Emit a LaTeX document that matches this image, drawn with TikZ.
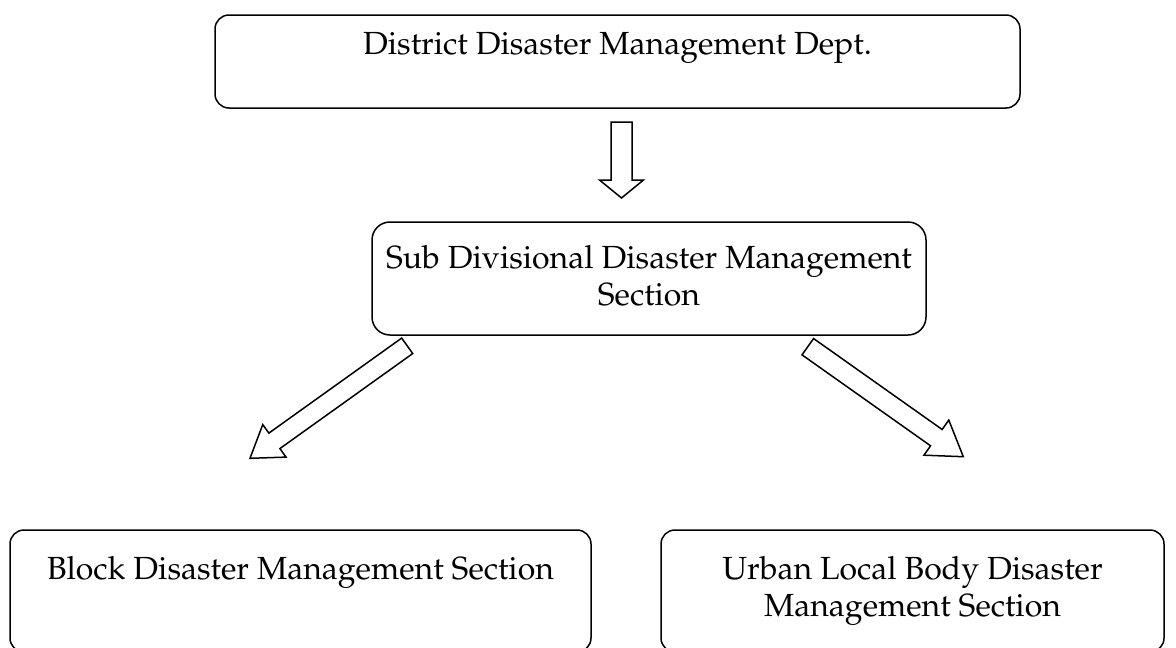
\documentclass[tikz,border=0pt]{standalone}
\usepackage[T1]{fontenc}
\usepackage{mathpazo}
\usetikzlibrary{positioning, calc}

\tikzset{
  box/.style={draw, line width=1.5pt, rounded corners=14pt, inner sep=0pt},
  boxtext/.style={inner sep=0pt, align=center, font=\fontsize{32}{37}\selectfont},
  bigarrow/.style={draw, line width=1.5pt, line join=miter, fill=white}
}
% hollow block arrow: tail, tip, head length, shaft half width, head half width
\newcommand{\blockarrow}[5]{%
  \coordinate (hb) at ($(#2)!#3!(#1)$);
  \draw[bigarrow] ($(#1)!#4!90:(#2)$) -- ($(hb)!#4!90:(#2)$) -- ($(hb)!#5!90:(#2)$)
    -- (#2) -- ($(hb)!#5!-90:(#2)$) -- ($(hb)!#4!-90:(#2)$) -- ($(#1)!#4!-90:(#2)$) -- cycle;
}

\begin{document}
\begin{tikzpicture}[x=1pt, y=-1pt]
\useasboundingbox (0,0) rectangle (1176,648);

% boxes
\node[box, minimum width=805pt, minimum height=93pt] (ddm) at (617.5,61.5) {};
\node[box, rounded corners=18pt, minimum width=554pt, minimum height=113pt] (sddm) at (649,278.5) {};
\node[box, minimum width=581pt, minimum height=122pt] (bdm) at (300.5,591) {};
\node[box, minimum width=503pt, minimum height=122pt] (uldm) at (912.5,591) {};

% texts
\node[boxtext, below=18pt of ddm.north] (ddmtext) {District Disaster Management Dept.};
\node[boxtext, below=24pt of sddm.north] (sddmtext) {Sub Divisional Disaster Management\\Section};
\node[boxtext, below=27pt of bdm.north] (bdmtext) {Block Disaster Management Section};
\node[boxtext, below=27pt of uldm.north] (uldmtext) {Urban Local Body Disaster\\Management Section};

% arrow ends
\coordinate (a1) at (621.5,122);
\coordinate (b1) at (621.5,198);
\coordinate (a2) at (407.2,345.8);
\coordinate (b2) at (250,458.3);
\coordinate (a3) at (807.8,346.7);
\coordinate (b3) at (963.3,456.7);

\blockarrow{a1}{b1}{18pt}{10.5pt}{22pt}
\blockarrow{a2}{b2}{30pt}{9.5pt}{20pt}
\blockarrow{a3}{b3}{33pt}{10pt}{21.5pt}

\end{tikzpicture}
\end{document}
